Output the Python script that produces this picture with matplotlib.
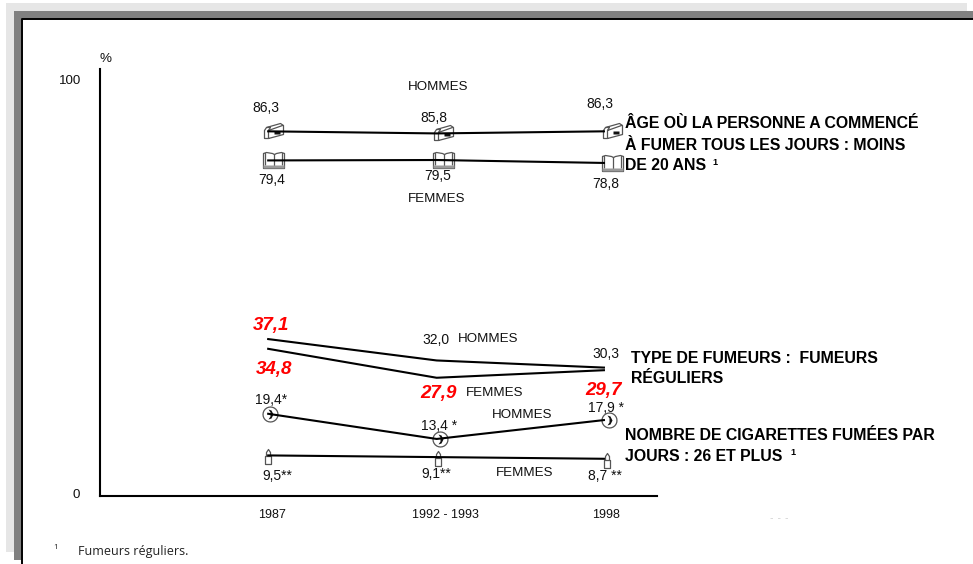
import math
import matplotlib
matplotlib.use('Agg')
import matplotlib.pyplot as plt
from matplotlib.patches import Rectangle
from matplotlib.path import Path

plt.rcParams['font.family'] = ['Liberation Sans', 'DejaVu Sans']

W, H = 973, 564
periods = ['1987', '1992 - 1993', '1998']

age_h = [86.3, 85.8, 86.3]
age_f = [79.4, 79.5, 78.8]
type_h = [37.1, 32.0, 30.3]
type_f = [34.8, 27.9, 29.7]
cig_h = [19.4, 13.4, 17.9]
cig_f = [9.5, 9.1, 8.7]

age_h_labels = ['86,3', '85,8', '86,3']
age_f_labels = ['79,4', '79,5', '78,8']
type_h_labels = ['37,1', '32,0', '30,3']
type_f_labels = ['34,8', '27,9', '29,7']
cig_h_labels = ['19,4*', '13,4 *', '17,9 *']
cig_f_labels = ['9,5**', '9,1**', '8,7 **']


def make_path(pieces):
    verts, codes = [], []
    for piece in pieces:
        verts += piece
        codes += [Path.MOVETO] + [Path.LINETO] * (len(piece) - 1)
    return Path(verts, codes)


def circle_piece(cx, cy, r, n=24):
    return [(cx + r * math.cos(2 * math.pi * i / n), cy + r * math.sin(2 * math.pi * i / n))
            for i in range(n + 1)]


# marker shapes, units are pixels around the data point, y up
mailbox = make_path([
    [(-4, -7), (-4, 1), (-2, 4), (2, 4), (0, 1), (0, -7), (-4, -7)],
    [(-2, 4), (12, 8), (15, 6), (15, -3), (0, -7)],
    [(0, 1), (14, 6)],
])
mail_flag = make_path([[(6, 0), (12, 0), (12, -3), (6, -3), (6, 0)]])
book = make_path([
    [(-5, -8), (-5, 7), (-2, 8), (4, 7), (6, 6), (8, 7), (13, 8), (16, 7), (16, -8), (-5, -8)],
    [(6, 6), (6, -8)],
    [(-3, -5), (-3, 7)],
    [(14, -5), (14, 7)],
])
book_base = make_path([[(-5, -8), (16, -8), (16, -5), (-5, -5), (-5, -8)]])
moon = make_path([circle_piece(2, 0, 7.5)])
crescent = make_path([[(0, 5), (3, 4), (5, 0), (3, -4), (0, -5), (2, -2), (2, 2), (0, 5)]])
candle = make_path([
    [(-3, -9), (-3, -1), (3, -1), (3, -9), (-3, -9)],
    [(-2, -1), (-2, 3), (0, 6), (2, 3), (2, -1)],
])


def msize(path):
    return 2 * abs(path.vertices).max() * 72 / 100


fig = plt.figure(figsize=(W / 100, H / 100), dpi=100)

# frame + text layer, in pixels
bg = fig.add_axes([0, 0, 1, 1])
bg.set_xlim(0, W)
bg.set_ylim(H, 0)
bg.axis('off')
bg.add_patch(Rectangle((6, 3), 961, 549, fc='#e6e6e6', ec='none'))
bg.add_patch(Rectangle((14, 11), W - 14, 549, fc='#808080', ec='none'))
bg.add_patch(Rectangle((21, 19), W - 21, H - 19, fc='white', ec='none'))
bg.plot([22, 22, W], [H, 19, 19], color='black', lw=1.4)
bg.plot([770, 788], [518, 518], color='#d5d5d5', lw=0.6, dashes=(3, 6))

# plot area : y=0 at px 495.5, y=100 at px 73.5
ax = fig.add_axes([100 / W, 1 - 495.5 / H, 557 / W, 426.5 / H])
ax.patch.set_alpha(0)
ax.set_xlim((100 - 268) / 169.5, (657 - 268) / 169.5)
ax.set_ylim(0, 426.5 / 4.22)
ax.spines['top'].set_visible(False)
ax.spines['right'].set_visible(False)
ax.spines['left'].set_linewidth(1.5)
ax.spines['bottom'].set_linewidth(1.5)
ax.set_xticks([])
ax.set_yticks([])

xs = list(range(len(periods)))
for values, marker in [(age_h, mailbox), (age_f, book), (cig_h, moon), (cig_f, candle)]:
    ax.plot(xs, values, ls='none', marker=marker, ms=msize(marker), mfc='white', mec='#555555',
            mew=0.9, zorder=2, clip_on=False)
for values, marker, col in [(age_h, mail_flag, '#111111'), (age_f, book_base, '#999999'),
                            (cig_h, crescent, '#111111')]:
    ax.plot(xs, values, ls='none', marker=marker, ms=msize(marker), mfc=col, mec='none',
            zorder=2.5, clip_on=False)
for values in [age_h, age_f, type_h, type_f, cig_h, cig_f]:
    ax.plot([x - 0.005 for x in xs[:2]] + [xs[2] - 0.012], values, color='black', lw=1.5, zorder=3,
            solid_capstyle='butt', clip_on=False)


def txt(x, y, s, **kw):
    kw.setdefault('ha', 'center')
    kw.setdefault('va', 'center')
    kw.setdefault('fontsize', 10)
    kw.setdefault('color', '#111111')
    bg.text(x, y + 1.5, s, zorder=5, **kw)


for s, (x, y) in zip(age_h_labels, [(266, 106), (434, 117), (600, 103)]):
    txt(x, y, s)
for s, (x, y) in zip(age_f_labels, [(272, 179), (438, 175), (606, 182)]):
    txt(x, y, s)
red = dict(color='#ff0000', fontsize=13.5, fontweight='bold', fontstyle='italic')
txt(271, 324, type_h_labels[0], **red)
txt(436, 339, type_h_labels[1])
txt(606, 353, type_h_labels[2])
txt(274, 368, type_f_labels[0], **red)
txt(438, 392, type_f_labels[1], **red)
txt(603, 389, type_f_labels[2], **red)
for s, (x, y) in zip(cig_h_labels, [(271, 399), (439, 425), (606, 407)]):
    txt(x, y, s)
for s, (x, y) in zip(cig_f_labels, [(277, 475), (436, 473), (605, 474)]):
    txt(x, y, s)

for s, x, y in [('HOMMES', 438, 85), ('FEMMES', 437, 197), ('HOMMES', 488, 337),
                ('FEMMES', 495, 391), ('HOMMES', 522, 413), ('FEMMES', 525, 471)]:
    txt(x, y, s, fontsize=9.6)

txt(106, 57, '%', fontsize=9.6)
txt(70, 80, '100', fontsize=9.6)
txt(76, 493, '0', fontsize=9.6)
for s, x in zip(periods, [272, 445, 606]):
    txt(x, 513, s, fontsize=9)

side = dict(ha='left', fontsize=11.4, fontweight='bold', color='black')
txt(625, 122.5, 'ÂGE OÙ LA PERSONNE A COMMENCÉ', **side)
txt(625, 143.5, 'À FUMER TOUS LES JOURS : MOINS', **side)
txt(625, 164.5, 'DE 20 ANS', **side)
txt(715, 161, '1', fontsize=6.5, fontweight='bold', color='black')
txt(631, 357, 'TYPE DE FUMEURS :  FUMEURS', **side)
txt(631, 377, 'RÉGULIERS', **side)
txt(625, 434, 'NOMBRE DE CIGARETTES FUMÉES PAR', **side)
txt(625, 455, 'JOURS : 26 ET PLUS', **side)
txt(793, 451, '1', fontsize=6.5, fontweight='bold', color='black')

txt(56, 546, '1', fontsize=5.5, family='Open Sans')
txt(78, 550, 'Fumeurs réguliers.', ha='left', fontsize=9, family='Open Sans', color='#222222')

fig.savefig('out.png', dpi=100)
